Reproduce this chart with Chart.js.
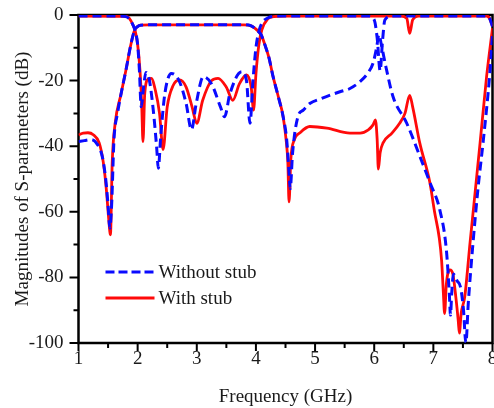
<!DOCTYPE html>
<html>
<head>
<meta charset="utf-8">
<script src="https://cdn.jsdelivr.net/npm/chart.js@4.4.1/dist/chart.umd.min.js"></script>
<style>
  html, body { margin: 0; padding: 0; background: #fff; overflow: hidden; }
  #wrap { width: 510px; height: 408px; }
</style>
</head>
<body>
<div id="wrap"><canvas id="sparamChart" width="510" height="408"></canvas></div>
<script>
// Axis ticks
const xMajorTicks = [1, 2, 3, 4, 5, 6, 7, 8];
const xMinorTicks = [1.5, 2.5, 3.5, 4.5, 5.5, 6.5, 7.5];
const yMajorTicks = [0, -20, -40, -60, -80, -100];
const yMinorTicks = [-10, -30, -50, -70, -90];

// Without stub: reflection (S11)
const s11WithoutFreq = [1, 1.7, 1.8, 1.86, 1.92, 1.96, 2.0, 2.03, 2.06, 2.1, 2.14, 2.2, 2.27, 2.32, 2.35, 2.39, 2.46, 2.57, 2.7, 2.82, 2.91, 2.99, 3.11, 3.25, 3.4, 3.47, 3.56, 3.76, 3.84, 3.9, 3.95, 4.0, 4.05, 4.1, 4.2, 4.3, 4.5, 5.9, 6.0, 6.05, 6.1, 6.14, 6.18, 6.3, 7.9, 7.95, 8.0];
const s11WithoutDb   = [-0.3, -0.3, -0.5, -1.2, -3, -5, -9, -17, -28, -22, -17.5, -20, -30, -40, -46.7, -37, -24, -17.8, -20, -27, -35, -27, -18.8, -21, -28, -31, -24, -17.3, -20, -33, -20, -10, -5, -2.5, -0.9, -0.4, -0.3, -0.3, -1.5, -7, -17, -8, -1.5, -0.3, -0.3, -1, -3.5];

// With stub: reflection (S11)
const s11WithFreq = [1, 1.8, 1.86, 1.92, 1.96, 2.0, 2.04, 2.07, 2.09, 2.12, 2.18, 2.23, 2.3, 2.37, 2.43, 2.5, 2.6, 2.71, 2.82, 2.92, 3.0, 3.1, 3.25, 3.36, 3.5, 3.61, 3.72, 3.84, 3.92, 3.96, 4.0, 4.05, 4.1, 4.2, 4.3, 4.5, 6.45, 6.55, 6.6, 6.65, 6.75, 7.9, 7.95, 8.0];
const s11WithDb   = [-0.3, -0.4, -1, -3, -5, -9, -17, -28, -38.6, -24, -19.5, -19.3, -23, -30, -41, -28, -21.5, -19.8, -22, -28, -33, -26, -20, -19.3, -22, -26, -21, -18.3, -22, -29, -18, -9, -4.5, -1.2, -0.5, -0.3, -0.3, -1, -5.6, -1.5, -0.3, -0.3, -1, -3.5];

// Without stub: transmission (S21)
const s21WithoutFreq = [1, 1.1, 1.21, 1.3, 1.4, 1.46, 1.5, 1.53, 1.56, 1.6, 1.66, 1.72, 1.8, 1.89, 1.95, 2.0, 2.05, 2.2, 3.8, 3.92, 3.98, 4.04, 4.09, 4.15, 4.22, 4.29, 4.38, 4.46, 4.52, 4.56, 4.58, 4.62, 4.71, 4.8, 4.91, 5.1, 5.42, 5.59, 5.76, 5.9, 5.98, 6.04, 6.08, 6.12, 6.2, 6.32, 6.55, 6.77, 6.94, 7.11, 7.22, 7.27, 7.29, 7.31, 7.34, 7.4, 7.46, 7.51, 7.55, 7.59, 7.67, 7.76, 7.84, 7.95, 8.0];
const s21WithoutDb   = [-38.6, -38.3, -38, -39, -43, -50, -58, -65, -58, -38, -30, -24, -17, -8.6, -4.6, -3.5, -3.1, -3.0, -3.0, -3.3, -4, -5, -6.1, -9, -13, -18.8, -25, -31, -38, -48, -53, -42, -31, -29, -27, -25.5, -23.4, -22.4, -20.3, -17.5, -14.7, -10, -6, -9, -16, -25, -33, -43, -51, -59.5, -71.6, -85, -91.5, -85, -79, -81, -83, -90, -100, -88, -69.6, -52, -39, -18.8, -6];

// With stub: transmission (S21)
const s21WithFreq = [1, 1.08, 1.16, 1.25, 1.35, 1.42, 1.47, 1.51, 1.54, 1.57, 1.62, 1.72, 1.8, 1.89, 1.95, 2.0, 2.05, 2.2, 3.8, 3.92, 3.98, 4.04, 4.09, 4.15, 4.22, 4.29, 4.38, 4.46, 4.51, 4.54, 4.56, 4.59, 4.65, 4.74, 4.91, 5.2, 5.59, 5.76, 5.9, 5.98, 6.02, 6.05, 6.07, 6.1, 6.15, 6.3, 6.43, 6.52, 6.6, 6.65, 6.77, 6.94, 7.02, 7.1, 7.14, 7.17, 7.19, 7.22, 7.28, 7.33, 7.38, 7.42, 7.44, 7.47, 7.53, 7.62, 7.79, 7.9, 8.0];
const s21WithDb   = [-36.6, -36, -35.9, -36.5, -39, -45, -53, -62, -67, -45, -33, -24, -17, -8.6, -4.6, -3.5, -3.1, -3.0, -3.0, -3.3, -4, -5, -6.1, -9, -13, -18.8, -25, -31, -38, -45, -57, -44, -38, -36, -34, -34.5, -36, -36, -35, -33.5, -32, -38, -47, -42, -39, -36, -33, -30, -24.5, -28, -39, -51, -60, -68, -75, -85, -91, -82, -77.7, -79, -86, -93, -97, -91, -86, -69.5, -39, -18.8, -4];

const legendLabels = ['Without stub', 'With stub'];

const colors = {
    blue: '#0a0aff',
    red: '#ff0a0a',
    axis: '#000000',
    text: '#1a1a1a'
};
const serif = "'Liberation Serif', 'Times New Roman', serif";

function pairs(freq, db) {
    return freq.map((f, i) => ({ x: f, y: db[i] }));
}

function lineSet(freq, db, color, dashed) {
    return {
        data: pairs(freq, db),
        borderColor: color,
        borderWidth: dashed ? 3 : 2.8,
        borderDash: dashed ? [9, 5] : [],
        pointRadius: 0,
        cubicInterpolationMode: 'monotone',
        fill: false
    };
}

/**
 * Box round the plot and the major / minor tick marks
 */
const frameAndTicks = {
    id: 'frameAndTicks',
    beforeDatasetsDraw(chart) {
        const { ctx, chartArea: a, scales: { x, y } } = chart;
        ctx.save();
        ctx.strokeStyle = colors.axis;
        ctx.lineWidth = 2.5;
        ctx.strokeRect(a.left, a.top, a.right - a.left, a.bottom - a.top);
        ctx.lineWidth = 2;
        ctx.beginPath();
        xMajorTicks.forEach(v => {
            const px = x.getPixelForValue(v);
            ctx.moveTo(px, a.bottom); ctx.lineTo(px, a.bottom + 8);
        });
        xMinorTicks.forEach(v => {
            const px = x.getPixelForValue(v);
            ctx.moveTo(px, a.bottom); ctx.lineTo(px, a.bottom + 5);
        });
        yMajorTicks.forEach(v => {
            const py = y.getPixelForValue(v);
            ctx.moveTo(a.left, py); ctx.lineTo(a.left - 9, py);
        });
        yMinorTicks.forEach(v => {
            const py = y.getPixelForValue(v);
            ctx.moveTo(a.left, py); ctx.lineTo(a.left - 5, py);
        });
        ctx.stroke();
        ctx.restore();
    }
};

/**
 * Legend drawn inside the plot, lower left
 */
const insideLegend = {
    id: 'insideLegend',
    afterDatasetsDraw(chart) {
        const { ctx, chartArea: a } = chart;
        const x0 = a.left + 27, x1 = a.left + 76, tx = a.left + 80;
        const rows = [
            { y: 272, color: colors.blue, dash: [9, 4], label: legendLabels[0] },
            { y: 298, color: colors.red, dash: [], label: legendLabels[1] }
        ];
        ctx.save();
        ctx.font = '19px ' + serif;
        ctx.textBaseline = 'middle';
        ctx.fillStyle = colors.text;
        rows.forEach(r => {
            ctx.beginPath();
            ctx.strokeStyle = r.color;
            ctx.lineWidth = 3;
            ctx.setLineDash(r.dash);
            ctx.moveTo(x0, r.y);
            ctx.lineTo(x1, r.y);
            ctx.stroke();
            ctx.fillText(r.label, tx, r.y + 1);
        });
        ctx.restore();
    }
};

new Chart(document.getElementById('sparamChart'), {
    type: 'line',
    data: {
        datasets: [
            lineSet(s11WithoutFreq, s11WithoutDb, colors.blue, true),
            lineSet(s21WithoutFreq, s21WithoutDb, colors.blue, true),
            lineSet(s11WithFreq, s11WithDb, colors.red, false),
            lineSet(s21WithFreq, s21WithDb, colors.red, false)
        ]
    },
    options: {
        responsive: false,
        animation: false,
        layout: { padding: { top: 15, right: 17.5, left: 0, bottom: 0 } },
        plugins: {
            legend: { display: false },
            tooltip: { enabled: false }
        },
        scales: {
            x: {
                type: 'linear',
                min: 1,
                max: 8,
                grid: { display: false, drawTicks: false },
                border: { display: false },
                afterBuildTicks: s => { s.ticks = xMajorTicks.map(v => ({ value: v })); },
                afterFit: s => { s.height = 65; s.paddingLeft = 0; s.paddingRight = 0; },
                ticks: {
                    padding: 5,
                    maxRotation: 0,
                    color: colors.text,
                    font: { family: serif, size: 19 }
                },
                title: {
                    display: true,
                    text: 'Frequency (GHz)',
                    color: colors.text,
                    font: { family: serif, size: 19, lineHeight: 1.2 },
                    padding: { top: 0, bottom: 0 }
                }
            },
            y: {
                min: -100,
                max: 0,
                grid: { display: false, drawTicks: false },
                border: { display: false },
                afterBuildTicks: s => { s.ticks = yMajorTicks.map(v => ({ value: v })); },
                afterFit: s => { s.width = 78.5; s.paddingTop = 0; s.paddingBottom = 0; },
                ticks: {
                    padding: 15,
                    color: colors.text,
                    font: { family: serif, size: 19 }
                },
                title: {
                    display: true,
                    text: 'Magnitudes of S-parameters (dB)',
                    color: colors.text,
                    font: { family: serif, size: 19, lineHeight: 1.2 },
                    padding: { top: 11.6, bottom: 0 }
                }
            }
        }
    },
    plugins: [frameAndTicks, insideLegend]
});
</script>
</body>
</html>
